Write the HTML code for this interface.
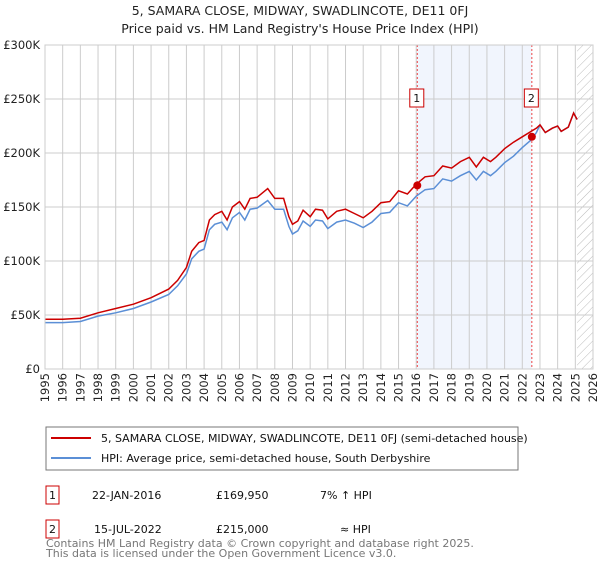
<!DOCTYPE html>
<html><head><meta charset="utf-8"><style>
body{margin:0;background:#fff;font-family:"Liberation Sans","DejaVu Sans",sans-serif;}
svg text{font-family:"DejaVu Sans","Liberation Sans",sans-serif;}
</style></head><body>
<svg id="c" width="600" height="560" xmlns="http://www.w3.org/2000/svg">
<defs><pattern id="hatch" width="6" height="6" patternUnits="userSpaceOnUse" patternTransform="rotate(45)"><line x1="0" y1="0" x2="0" y2="6" stroke="#bbb" stroke-width="1"/></pattern></defs>
<text x="300" y="15" text-anchor="middle" font-size="12.5" fill="#222">5, SAMARA CLOSE, MIDWAY, SWADLINCOTE, DE11 0FJ</text>
<text x="300" y="33" text-anchor="middle" font-size="12.5" fill="#222">Price paid vs. HM Land Registry's House Price Index (HPI)</text>
<g id="plot"></g>
<g>
<rect x="46" y="427" width="472" height="43" fill="#fff" stroke="#777"/>
<line x1="51" y1="438" x2="91" y2="438" stroke="#cc0000" stroke-width="2"/>
<text x="101" y="442" font-size="11" fill="#111">5, SAMARA CLOSE, MIDWAY, SWADLINCOTE, DE11 0FJ (semi-detached house)</text>
<line x1="51" y1="458" x2="91" y2="458" stroke="#5b8fd6" stroke-width="2"/>
<text x="101" y="462" font-size="11" fill="#111">HPI: Average price, semi-detached house, South Derbyshire</text>
</g>
<g font-size="11" fill="#111">
<rect x="46" y="486" width="13" height="18" fill="#fff" stroke="#cc0000"/><text x="52.5" y="499" text-anchor="middle">1</text>
<text x="92" y="499">22-JAN-2016</text><text x="216" y="499">£169,950</text><text x="320" y="499">7% ↑ HPI</text>
<rect x="46" y="520" width="13" height="18" fill="#fff" stroke="#cc0000"/><text x="52.5" y="533" text-anchor="middle">2</text>
<text x="94" y="533">15-JUL-2022</text><text x="216" y="533">£215,000</text><text x="340" y="533">≈ HPI</text>
</g>
<text x="46" y="547" font-size="11" fill="#777">Contains HM Land Registry data © Crown copyright and database right 2025.</text>
<text x="46" y="557" font-size="11" fill="#777">This data is licensed under the Open Government Licence v3.0.</text>
</svg>
<script>
const dates=[1995,1996,1997,1998,1999,2000,2001,2002,2002.5,2003,2003.3,2003.7,2004,2004.3,2004.6,2005,2005.3,2005.6,2006,2006.3,2006.6,2007,2007.6,2008,2008.5,2008.8,2009,2009.3,2009.6,2010,2010.3,2010.7,2011,2011.5,2012,2012.5,2013,2013.5,2014,2014.5,2015,2015.5,2016,2016.5,2017,2017.5,2018,2018.5,2019,2019.4,2019.8,2020.2,2020.5,2021,2021.5,2022,2022.5,2022.8,2023,2023.3,2023.7,2024,2024.2,2024.6,2024.9,2025.1];
const hpiValues=[43,43,44,49,52,56,62,69,77,88,102,109,111,129,134,136,129,140,145,138,148,149,156,148,148,132,125,128,137,132,138,137,130,136,138,135,131,136,144,145,154,151,160,166,167,176,174,179,183,175,183,179,183,191,197,205,212,219,226,219,223,225,220,224,237,231];
const propertyValues=[46,46,47,52,56,60,66,74,82,94,109,117,119,138,143,146,138,150,155,148,158,159,167,158,158,141,134,137,147,141,148,147,139,146,148,144,140,146,154,155,165,162,171,178,179,188,186,192,196,187,196,192,196,204,210,215,220,223,226,219,223,225,220,224,237,231];
const saleDates=[2016.06,2022.54];
const salePrices=[169.95,215];
const saleLabels=["1","2"];
const yTicks=[0,50,100,150,200,250,300];
const yTickLabels=["£0","£50K","£100K","£150K","£200K","£250K","£300K"];
const xTicks=[1995,1996,1997,1998,1999,2000,2001,2002,2003,2004,2005,2006,2007,2008,2009,2010,2011,2012,2013,2014,2015,2016,2017,2018,2019,2020,2021,2022,2023,2024,2025,2026];
const forecastStart=2025.1;
const X0=45,X1=593,Y0=369,Y1=45;
const xs=d=>X0+(d-1995)/(2026-1995)*(X1-X0);
const ys=v=>Y0-v/300*(Y0-Y1);
const NS="http://www.w3.org/2000/svg";
const g=document.getElementById('plot');
function mk(t,a){const e=document.createElementNS(NS,t);for(const k in a)e.setAttribute(k,a[k]);g.appendChild(e);return e;}
let e=mk('rect',{x:xs(saleDates[0]),y:Y1,width:xs(saleDates[1])-xs(saleDates[0]),height:Y0-Y1,fill:'#eef3fc',opacity:0.8});


e=mk('rect',{x:xs(forecastStart),y:Y1,width:X1-xs(forecastStart),height:Y0-Y1,fill:'url(#hatch)'});


xTicks.forEach(t=>{const l=mk('line',{x1:xs(t),x2:xs(t),y1:Y1,y2:Y0,stroke:'#cccccc','stroke-width':1});


const tx=mk('text',{x:0,y:0,'font-size':11.5,fill:'#222','text-anchor':'end',transform:`translate(${xs(t)+4},${Y0+4}) rotate(-90)`});tx.textContent=t;

});
yTicks.forEach((t,i)=>{const l=mk('line',{x1:X0,x2:X1,y1:ys(t),y2:ys(t),stroke:'#cccccc','stroke-width':1});


const tx=mk('text',{x:X0-5,y:ys(t)+4,'font-size':11.5,fill:'#222','text-anchor':'end'});tx.textContent=yTickLabels[i];

});
saleDates.forEach((d,i)=>{const l=mk('line',{x1:xs(d),x2:xs(d),y1:Y1,y2:Y0,stroke:'#ee4444','stroke-width':1,'stroke-dasharray':'2,2'});

});
function path(vals){return vals.map((v,i)=>(i?'L':'M')+xs(dates[i]).toFixed(1)+','+ys(v).toFixed(1)).join('');}
e=mk('path',{d:path(hpiValues),fill:'none',stroke:'#5b8fd6','stroke-width':1.5});


e=mk('path',{d:path(propertyValues),fill:'none',stroke:'#cc0000','stroke-width':1.5});


saleDates.forEach((d,i)=>{const c=mk('circle',{cx:xs(d),cy:ys(salePrices[i]),r:4,fill:'#cc0000'});


const r=mk('rect',{x:xs(d)-7.5,y:89,width:14,height:18,fill:'#fff',stroke:'#cc0000'});


const t=mk('text',{x:xs(d)-0.5,y:102,'font-size':11,'text-anchor':'middle',fill:'#111'});t.textContent=saleLabels[i];

});
e=mk('rect',{x:X0,y:Y1,width:X1-X0,height:Y0-Y1,fill:'none',stroke:'#cccccc'});


</script>
</body></html>
